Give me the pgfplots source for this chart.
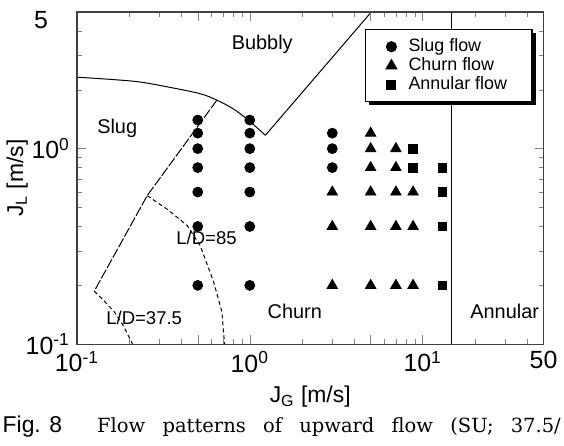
\documentclass[border=0pt]{standalone}
\usepackage{fontspec}
\setmainfont{Liberation Sans}
\newfontfamily\capfont{DejaVu Serif}
\usepackage{pgfplots}
\pgfplotsset{compat=1.18}
\usetikzlibrary{shadows}

\begin{document}
\begin{tikzpicture}
\begin{axis}[
  scale only axis, width=234.5pt, height=167pt,
  xmode=log, ymode=log,
  xmin=0.1, xmax=50, ymin=0.1, ymax=5,
  axis line style={black!75, line width=0.6pt},
  major tick length=4.5pt, minor tick length=2.5pt,
  xtick={0.1,1,10,50},
  xticklabels={10\textsuperscript{-1},10\textsuperscript{0},10\textsuperscript{1},50},
  minor xtick={0.2,0.3,0.4,0.6,0.7,0.8,0.9,2,3,4,6,7,8,9,20,30,40},
  ytick={0.1,1},
  yticklabels={10\textsuperscript{-1},10\textsuperscript{0}},
  minor ytick={0.2,0.3,0.4,0.5,0.6,0.7,0.8,0.9,2,3,4},
  extra y ticks={5}, extra y tick labels={5},
  extra y tick style={yticklabel style={xshift=-11pt,yshift=-4pt}},
  tick label style={font=\fontsize{12.5}{14}\selectfont},
  xlabel={J\textsubscript{G} [m/s]},
  ylabel={J\textsubscript{L} [m/s]},
  label style={font=\fontsize{11.5}{13}\selectfont},
  xlabel style={at={(axis description cs:0.5,-0.1766)}, anchor=base},
  ylabel style={at={(axis description cs:-0.1151,0.5)}, anchor=base},
  legend style={at={(0.9765,0.948)}, anchor=north east, draw=black, line width=0.6pt,
    fill=white, font=\fontsize{9}{10}\selectfont, inner xsep=10.5pt, inner ysep=2.5pt,
    row sep=-2.5pt, column sep=4pt,
    drop shadow={shadow xshift=1.8pt, shadow yshift=-1.8pt, fill=black, opacity=1}},
  legend cell align=left,
]
% flow regime boundaries
\addplot[black, line width=0.5pt, smooth, tension=0.5, forget plot] coordinates {
 (0.1,2.32) (0.214,2.21) (0.333,2.07) (0.516,1.91) (0.645,1.77) (0.80,1.60) (0.98,1.40) (1.23,1.17)};
\addplot[black, line width=0.5pt, forget plot] coordinates {(1.23,1.17) (5.05,5)};
\addplot[black, line width=0.5pt, dash pattern=on 5pt off 1pt, forget plot] coordinates {
 (0.645,1.77) (0.255,0.575) (0.126,0.187)};
\addplot[black, line width=0.5pt, dash pattern=on 2pt off 1.5pt, forget plot] coordinates {
 (0.255,0.575) (0.333,0.49) (0.434,0.405) (0.516,0.32) (0.617,0.209) (0.689,0.147) (0.71,0.107) (0.715,0.1)};
\addplot[black, line width=0.5pt, dash pattern=on 2pt off 1.5pt, forget plot] coordinates {
 (0.126,0.187) (0.145,0.165) (0.164,0.147) (0.185,0.125) (0.21,0.1)};
\addplot[black, line width=0.6pt, forget plot] coordinates {(14.6,0.1) (14.6,5)};
% data
\addplot[only marks, mark=*, mark size=2.5pt, black] coordinates {
 (0.5,1.4) (0.5,1.2) (0.5,1.0) (0.5,0.8) (0.5,0.6) (0.5,0.4) (0.5,0.2)
 (1,1.4) (1,1.2) (1,1.0) (1,0.8) (1,0.6) (1,0.4) (1,0.2)
 (3,1.2) (3,1.0) (3,0.8)};
\addlegendentry{Slug flow}
\addplot[only marks, mark=triangle*, mark size=3pt, black] coordinates {
 (3,0.6) (3,0.4) (3,0.2)
 (5,1.2) (5,1.0) (5,0.8) (5,0.6) (5,0.4) (5,0.2)
 (7,1.0) (7,0.8) (7,0.6) (7,0.4) (7,0.2)
 (8.8,0.6) (8.8,0.4) (8.8,0.2)};
\addlegendentry{Churn flow}
\addplot[only marks, mark=square*, mark size=2.2pt, black] coordinates {
 (8.8,1.0) (8.8,0.8)
 (13,0.8) (13,0.6) (13,0.4) (13,0.2)};
\addlegendentry{Annular flow}
% region labels
\node[font=\fontsize{10}{12}\selectfont] at (axis cs:1.18,3.4) {Bubbly};
\node[font=\fontsize{10}{12}\selectfont] at (axis cs:0.171,1.27) {Slug};
\node[font=\fontsize{10}{12}\selectfont] at (axis cs:1.82,0.147) {Churn};
\node[font=\fontsize{10}{12}\selectfont] at (axis cs:29.8,0.147) {Annular};
\node[font=\fontsize{9.3}{11}\selectfont] at (axis cs:0.562,0.349) {L/D=85};
\node[font=\fontsize{9.3}{11}\selectfont] at (axis cs:0.245,0.136) {L/D=37.5};
\end{axis}
% frame and ticks drawn once more on top (longer ticks at 0.5 and 5)
\begin{axis}[
  scale only axis, width=234.5pt, height=167pt,
  xmode=log, ymode=log,
  xmin=0.1, xmax=50, ymin=0.1, ymax=5,
  axis line style={black!75, line width=0.6pt},
  major tick length=4.5pt, minor tick length=2.5pt,
  xtick={0.1,0.5,1,5,10,50},
  xticklabels={,,,,,},
  minor xtick={0.2,0.3,0.4,0.6,0.7,0.8,0.9,2,3,4,6,7,8,9,20,30,40},
  ytick={0.1,1,5},
  yticklabels={,,},
  minor ytick={0.2,0.3,0.4,0.5,0.6,0.7,0.8,0.9,2,3,4},
]
\addplot[draw=none, forget plot] coordinates {(1,1)};
\end{axis}
\node[anchor=base west, inner sep=0pt] at (-37.5pt,-44.5pt) {\fontsize{11.5}{13}\selectfont Fig. 8};
\node[anchor=base west, inner sep=0pt] at (10pt,-44.5pt) {\capfont\fontsize{9.8}{12}\selectfont\makebox[233pt][s]{Flow patterns of upward flow (SU; 37.5/}};
\path (-38pt,-51pt) rectangle (244pt,173pt);
\end{tikzpicture}
\end{document}
